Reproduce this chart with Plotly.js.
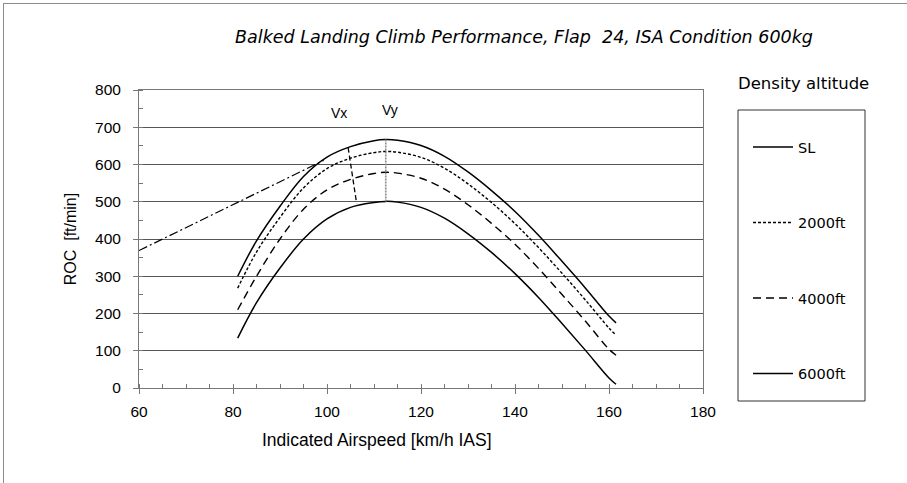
<!DOCTYPE html>
<html>
<head>
<meta charset="utf-8">
<script src="https://cdn.plot.ly/plotly-3.0.1.min.js"></script>
<style>
html,body{margin:0;padding:0;background:#fff;overflow:hidden;}
#wrap{position:relative;width:907px;height:483px;}
#chart{position:absolute;left:0;top:0;width:907px;height:483px;}
#frame{position:absolute;left:3px;top:3px;width:1000px;height:1000px;border-left:1px solid #8c8c8c;border-top:1px solid #8c8c8c;pointer-events:none;}
</style>
</head>
<body>
<div id="wrap"><div id="chart"></div><div id="frame"></div></div>
<script>
// Indicated airspeed [km/h IAS]
const speed = [81, 85, 90, 95, 100, 105, 110, 112.5, 115, 120, 125, 130, 135, 140, 145, 150, 155, 160, 161.5];
// Rate of climb [ft/min] per density altitude
const rocSL    = [300, 395, 488, 568, 620, 648, 664, 667, 665, 651, 622, 580, 530, 474, 410, 340, 268, 193, 175];
const roc2000  = [268, 365, 458, 537, 589, 617, 632, 635, 633, 619, 590, 548, 498, 441, 377, 308, 236, 161, 142];
const roc4000  = [210, 300, 400, 480, 532, 560, 576, 579, 577, 563, 534, 492, 442, 386, 321, 251, 179, 104, 88];
const roc6000  = [134, 229, 322, 400, 454, 485, 498, 501, 499, 485, 456, 414, 364, 307, 243, 173, 101, 27, 10];
const seriesNames = ['SL', '2000ft', '4000ft', '6000ft'];
// Vx / Vy construction lines
const tangentX = [60, 99.3];
const tangentY = [369, 611];
const vxX = [104.5, 106.3];
const vxY = [645, 496];
const vyX = [112.5, 112.5];
const vyY = [501, 667];
const xTicks = [60, 80, 100, 120, 140, 160, 180];
const yTicks = [0, 100, 200, 300, 400, 500, 600, 700, 800];

const nb = '\u00a0';
const styles = [
  {dash: 'solid', width: 1.5},
  {dash: '3px,2px', width: 1.4},
  {dash: '8px,5px', width: 1.4},
  {dash: 'solid', width: 1.5}
];
const series = [rocSL, roc2000, roc4000, roc6000];
const traces = series.map((ys, i) => ({
  x: speed, y: ys, name: seriesNames[i], type: 'scatter', mode: 'lines',
  line: {color: '#000', width: styles[i].width, dash: styles[i].dash, shape: 'spline', smoothing: 1},
  legendgroup: 'g' + i, hoverinfo: 'x+y'
}));
traces.push({x: tangentX, y: tangentY, mode: 'lines', showlegend: false,
  line: {color: '#000', width: 1.2, dash: '9px,3px,2px,3px'}});
traces.push({x: vxX, y: vxY, mode: 'lines', showlegend: false,
  line: {color: '#000', width: 1.3, dash: '5px,3px'}});
traces.push({x: vyX, y: vyY, mode: 'lines', showlegend: false,
  line: {color: '#8a8a8a', width: 1.6, dash: '2px,1px'}});

const L = 139, R = 204, T = 90, B = 95;
const pw = 907 - L - R, ph = 483 - T - B;
const px2x = p => (p - L) / pw;
const px2y = p => (483 - B - p) / ph;

const layout = {
  width: 907, height: 483,
  margin: {l: L, r: R, t: T, b: B, pad: 0},
  paper_bgcolor: 'rgba(0,0,0,0)', plot_bgcolor: '#fff',
  font: {family: 'Liberation Sans, Arial, sans-serif', size: 15, color: '#000'},
  title: {
    text: 'Balked Landing Climb Performance, Flap' + nb + ' 24, ISA Condition 600kg',
    font: {family: 'DejaVu Sans', size: 17.5, style: 'italic', color: '#000'},
    xref: 'container', yref: 'container', x: 524 / 907, xanchor: 'center',
    y: 1 - 37 / 483, yanchor: 'middle'
  },
  xaxis: {
    range: [60, 180], tickvals: xTicks, ticktext: xTicks.map(String),
    showgrid: false, zeroline: false,
    showline: true, linecolor: '#777', linewidth: 1, mirror: true,
    ticks: 'outside', ticklen: 5, tickcolor: '#777', ticklabelstandoff: 4,
    tickfont: {size: 15.5},
    minor: {dtick: 5, tick0: 60, ticks: 'inside', ticklen: 4, tickcolor: '#777', showgrid: false},
    fixedrange: true
  },
  yaxis: {
    range: [0, 800], tickvals: yTicks, ticktext: yTicks.map(String),
    showgrid: true, gridcolor: '#555', gridwidth: 1, zeroline: false,
    showline: true, linecolor: '#777', linewidth: 1, mirror: true,
    ticks: 'outside', ticklen: 5, tickcolor: '#777', ticklabelstandoff: 9,
    tickfont: {size: 15.5},
    minor: {dtick: 50, tick0: 0, ticks: 'inside', ticklen: 4, tickcolor: '#777', showgrid: false},
    title: {text: 'ROC' + nb + ' [ft/min]', font: {size: 16}, standoff: 14},
    fixedrange: true
  },
  showlegend: true,
  legend: {
    x: px2x(748), xanchor: 'left', y: px2y(131), yanchor: 'top',
    bgcolor: 'rgba(0,0,0,0)', borderwidth: 0,
    font: {family: 'DejaVu Sans', size: 14.5, color: '#000'},
    tracegroupgap: 53.7, itemwidth: 40, traceorder: 'grouped'
  },
  shapes: [
    {type: 'rect', xref: 'paper', yref: 'paper',
     x0: px2x(738), x1: px2x(865), y0: px2y(401), y1: px2y(110),
     line: {color: '#333', width: 1}, fillcolor: 'rgba(0,0,0,0)'}
  ],
  annotations: [
    {text: 'Density altitude', xref: 'paper', yref: 'paper', x: px2x(804), y: px2y(83),
     xanchor: 'center', yanchor: 'middle', showarrow: false,
     font: {family: 'DejaVu Sans', size: 16.5, color: '#000'}},
    {text: 'Indicated Airspeed [km/h IAS]', xref: 'paper', yref: 'paper', x: px2x(377), y: px2y(440),
     xanchor: 'center', yanchor: 'middle', showarrow: false,
     font: {family: 'Liberation Sans, Arial, sans-serif', size: 17.5, color: '#000'}},
    {text: 'Vx', xref: 'x', yref: 'y', x: 102.6, y: 738, showarrow: false,
     xanchor: 'center', yanchor: 'middle', font: {size: 14}},
    {text: 'Vy', xref: 'x', yref: 'y', x: 113.4, y: 746, showarrow: false,
     xanchor: 'center', yanchor: 'middle', font: {size: 14}}
  ]
};

Plotly.newPlot('chart', traces, layout, {displayModeBar: false, staticPlot: true});
</script>
</body>
</html>
